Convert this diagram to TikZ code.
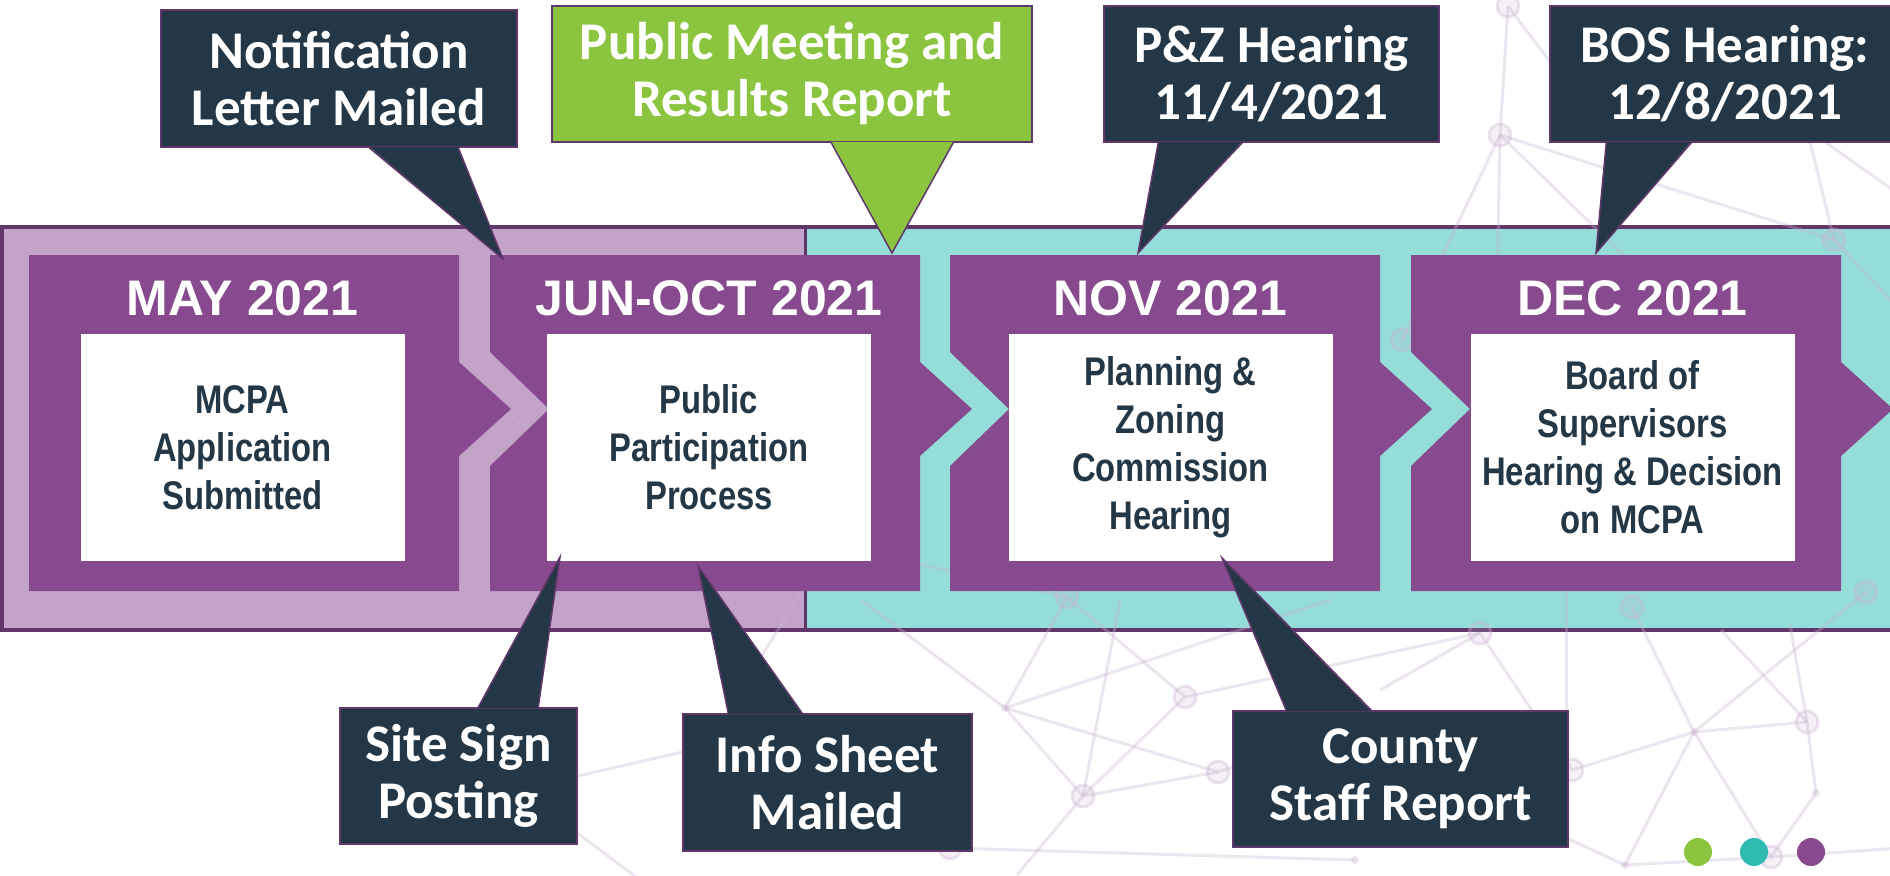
\documentclass[tikz,border=0pt]{standalone}
\usepackage{fontspec}
\setmainfont{Liberation Sans}
\newfontfamily\calloutfont{Carlito}
\newfontfamily\narrowfont{Liberation Sans}[FakeStretch=0.82]
\usetikzlibrary{calc}

\definecolor{bandlilac}{HTML}{C3A4C8}
\definecolor{bandteal}{HTML}{95DDD9}
\definecolor{rimpurple}{HTML}{61376B}
\definecolor{stagepurple}{HTML}{874A8E}
\definecolor{calldark}{HTML}{243746}
\definecolor{callgreen}{HTML}{8BC53F}
\definecolor{dotteal}{HTML}{2DBBB2}
\definecolor{netlilac}{HTML}{C9B3D0}

\tikzset{
  stagetitle/.style={text=white, anchor=base, inner sep=0pt,
    font=\bfseries\fontsize{25}{28}\selectfont},
  stagetext/.style={fill=white, minimum width=162pt, minimum height=113.5pt,
    inner sep=0pt, align=center, text=calldark,
    font=\narrowfont\bfseries\fontsize{20}{24}\selectfont},
  callbox/.style={fill=calldark, draw=rimpurple, line width=0.75pt,
    inner sep=0pt, align=center, text=white,
    font=\calloutfont\bfseries\fontsize{26.5}{28.5}\selectfont},
  calltail/.style={draw=rimpurple, line width=0.75pt, line join=miter},
  netline/.style={draw=netlilac, draw opacity=0.35, line width=1.5pt},
  netring/.style={draw=netlilac, draw opacity=0.35, fill=netlilac,
    fill opacity=0.2, line width=1.5pt},
  dot/.style={circle, inner sep=0pt, minimum size=14pt}
}

\begin{document}
\begin{tikzpicture}[x=0.5pt, y=-0.5pt]
\useasboundingbox (0,0) rectangle (1890,875);

% band behind the stages
\fill[bandlilac] (2,227) rectangle (805,630);
\fill[bandteal] (805,227) rectangle (1900,630);
\draw[rimpurple, line width=2pt] (1900,227) -- (2,227) -- (2,630) -- (1900,630);
\draw[rimpurple, line width=1.5pt] (805,227) -- (805,630);

% faint network in the background
\coordinate (n1) at (1508,6);
\coordinate (n2) at (1500,135);
\coordinate (n3) at (1402,340);
\coordinate (n4) at (1834,240);
\coordinate (n5) at (1866,592);
\coordinate (n6) at (1632,607);
\coordinate (n7) at (1067,597);
\coordinate (n8) at (1480,633);
\coordinate (n9) at (1005,708);
\coordinate (n10) at (1185,697);
\coordinate (n11) at (1083,796);
\coordinate (n12) at (1218,772);
\coordinate (n13) at (1572,770);
\coordinate (n14) at (1694,732);
\coordinate (n15) at (1807,722);
\coordinate (n16) at (1355,860);
\coordinate (n17) at (1625,865);
\coordinate (n18) at (1771,857);
\coordinate (n19) at (950,848);
\coordinate (n20) at (1816,793);
\coordinate (e1) at (1575,95);
\coordinate (e2) at (1700,330);
\coordinate (e3) at (1495,400);
\coordinate (e4) at (1800,100);
\coordinate (e5) at (1780,110);
\coordinate (e6) at (1900,195);
\coordinate (e7) at (1900,310);
\coordinate (e8) at (861,600);
\coordinate (e9) at (1330,600);
\coordinate (e10) at (1017,875);
\coordinate (e11) at (1120,600);
\coordinate (e12) at (1300,745);
\coordinate (e13) at (1380,690);
\coordinate (e14) at (1790,625);
\coordinate (e15) at (1721,630);
\coordinate (e16) at (1900,848);
\coordinate (e17) at (1566,560);
\coordinate (e18) at (1566,720);
\coordinate (e19) at (560,780);
\coordinate (e20) at (700,748);
\coordinate (e21) at (560,820);
\coordinate (e22) at (640,880);
\coordinate (e23) at (800,595);
\coordinate (e24) at (740,690);
\coordinate (e25) at (480,400);
\coordinate (e26) at (560,445);
\coordinate (e27) at (900,560);
\coordinate (e28) at (1560,835);
\foreach \a/\b in {n1/n2, n1/e1, n2/n3, n2/n4, n2/e2, n2/e3, n4/e4, e5/e6,
    n4/e7, e8/n9, n9/e9, n9/n12, n9/n11, n7/n10, n7/n9, n7/e27, n10/n11,
    n10/n8, n11/n12, n11/e10, e11/n11, n12/e12, n8/n13, n8/e13, n13/n14,
    n14/n15, n14/n17, n14/n18, n6/n14, n14/n5, n15/n20, n20/n18, n15/e14,
    n15/e15, n17/n18, n19/n16, n17/e28, n18/e16, e17/e18, e19/e20, e21/e22,
    e23/e24, e25/e26}
  \draw[netline] (\a) -- (\b);
\foreach \p in {n1,n2,n3,n4,n5,n6,n7,n8,n10,n11,n12,n13,n15,n18,n19}
  \draw[netring] (\p) circle[radius=11];
\foreach \p in {n9,n14,n16,n17,n20}
  \fill[netlilac, opacity=0.35] (\p) circle[radius=4];

% stages
\foreach \L/\notch/\c/\when/\what [count=\i] in {
    29/0/242.5/{MAY 2021}/{MCPA\\Application\\Submitted},
    490/59/709/{JUN-OCT 2021}/{Public\\Participation\\Process},
    950/59/1170.5/{NOV 2021}/{Planning \&\\Zoning\\Commission\\Hearing},
    1411/59/1632.5/{DEC 2021}/{Board of\\Supervisors\\Hearing \& Decision\\on MCPA}} {
  \fill[stagepurple] (\L,255) -- ({\L+430},255) -- ({\L+430},362)
    -- ({\L+482},409) -- ({\L+430},456) -- ({\L+430},591) -- (\L,591)
    -- (\L,466) -- ({\L+\notch},409) -- (\L,352) -- cycle;
  \node[stagetitle] (when\i) at (\c,315) {\when};
  \node[stagetext] (stage\i) at (\c,447.5) {\what};
}

% callouts above
\node[callbox, minimum width=178pt, minimum height=68.5pt] (notif) at (339,78.5)
  {Notification\\Letter Mailed};
\node[callbox, fill=callgreen, minimum width=240pt, minimum height=68pt] (pubmeet)
  at (792,74) {Public Meeting and\\Results Report};
\node[callbox, minimum width=167.5pt, minimum height=68pt] (pzhear) at (1271.5,74)
  {P\&Z Hearing\\11/4/2021};
\node[callbox, minimum width=175pt, minimum height=68pt] (boshear) at (1725,74)
  {BOS Hearing:\\12/8/2021};
\coordinate (notiftip) at (503,259);
\coordinate (pubmeettip) at (892,253);
\coordinate (pzheartip) at (1138,253);
\coordinate (boshtip) at (1596,253);
\fill[calldark] ($(notif.south west)+(209,-1)$) -- (notiftip)
  -- ($(notif.south west)+(298,-1)$) -- cycle;
\draw[calltail] ($(notif.south west)+(209,0)$) -- (notiftip)
  -- ($(notif.south west)+(298,0)$);
\fill[callgreen] ($(pubmeet.south west)+(280,-1)$) -- (pubmeettip)
  -- ($(pubmeet.south west)+(402,-1)$) -- cycle;
\draw[calltail] ($(pubmeet.south west)+(280,0)$) -- (pubmeettip)
  -- ($(pubmeet.south west)+(402,0)$);
\fill[calldark] ($(pzhear.south west)+(55,-1)$) -- (pzheartip)
  -- ($(pzhear.south west)+(139,-1)$) -- cycle;
\draw[calltail] ($(pzhear.south west)+(55,0)$) -- (pzheartip)
  -- ($(pzhear.south west)+(139,0)$);
\fill[calldark] ($(boshear.south west)+(57,-1)$) -- (boshtip)
  -- ($(boshear.south west)+(142,-1)$) -- cycle;
\draw[calltail] ($(boshear.south west)+(57,0)$) -- (boshtip)
  -- ($(boshear.south west)+(142,0)$);

% callouts below
\node[callbox, minimum width=118.5pt, minimum height=68pt] (sitesign) at (458.5,776)
  {Site Sign\\Posting};
\node[callbox, minimum width=144.5pt, minimum height=68.5pt] (infosheet) at (827.5,782.5)
  {Info Sheet\\Mailed};
\node[callbox, minimum width=167.5pt, minimum height=68pt] (county) at (1400.5,779)
  {County\\Staff Report};
\coordinate (sitetip) at (560,557);
\coordinate (infotip) at (698,566);
\coordinate (countytip) at (1222,558);
\fill[calldark] ($(sitesign.north west)+(139,1)$) -- (sitetip)
  -- ($(sitesign.north west)+(199,1)$) -- cycle;
\draw[calltail] ($(sitesign.north west)+(139,0)$) -- (sitetip)
  -- ($(sitesign.north west)+(199,0)$);
\fill[calldark] ($(infosheet.north west)+(46,1)$) -- (infotip)
  -- ($(infosheet.north west)+(120,1)$) -- cycle;
\draw[calltail] ($(infosheet.north west)+(46,0)$) -- (infotip)
  -- ($(infosheet.north west)+(120,0)$);
\fill[calldark] ($(county.north west)+(54,1)$) -- (countytip)
  -- ($(county.north west)+(139,1)$) -- cycle;
\draw[calltail] ($(county.north west)+(54,0)$) -- (countytip)
  -- ($(county.north west)+(139,0)$);

% three dots
\node[dot, fill=callgreen] (dotgreen) at (1698,852) {};
\node[dot, fill=dotteal] (dotteal) at (1754,852) {};
\node[dot, fill=stagepurple] (dotpurple) at (1811,852) {};

\end{tikzpicture}
\end{document}
